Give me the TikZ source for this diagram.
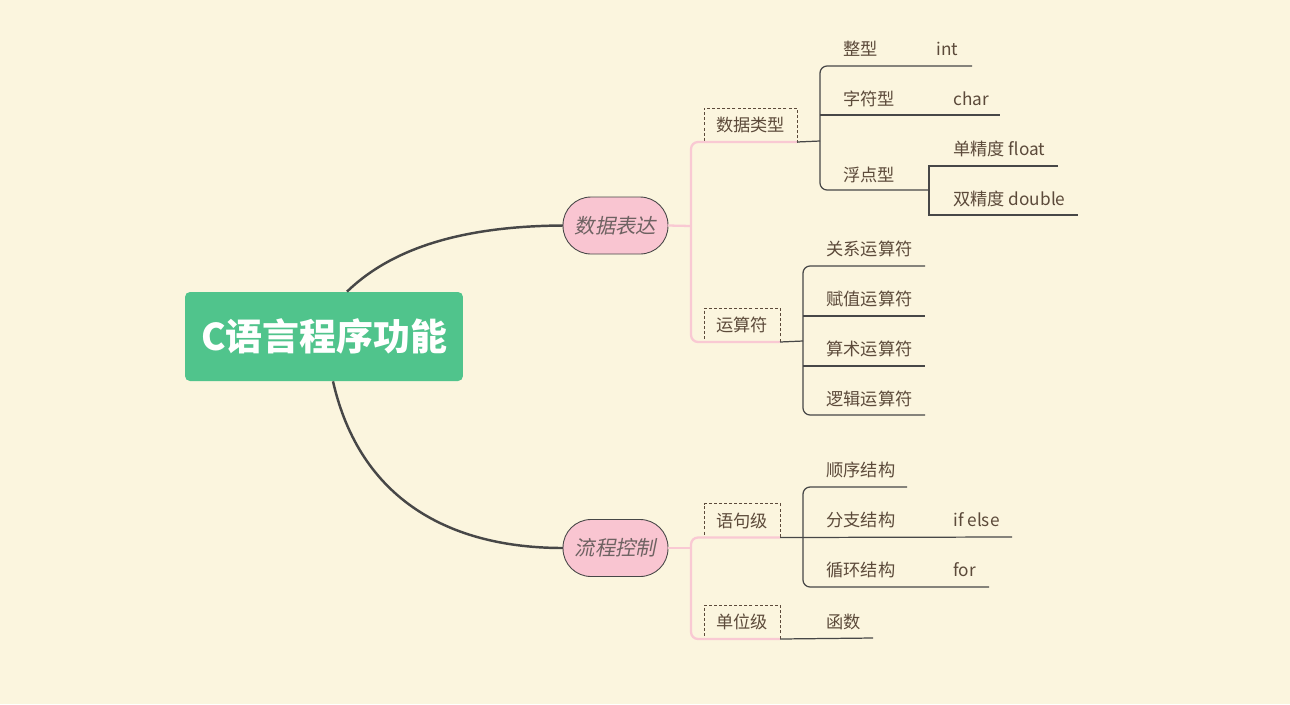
\documentclass[tikz,border=0pt]{standalone}
\usepackage{fontspec}
\setmainfont{Noto Sans CJK SC}
\newfontfamily\slantfont{Noto Sans CJK SC}[FakeSlant=0.2]
\usetikzlibrary{calc}
\definecolor{paper}{HTML}{FBF5DE}
\definecolor{mint}{HTML}{50C48C}
\definecolor{blush}{HTML}{F9C5D1}
\definecolor{rosy}{HTML}{F9C9D3}
\definecolor{slate}{HTML}{474747}
\definecolor{bark}{HTML}{5C4A3A}
\definecolor{smoke}{HTML}{6E6262}

\tikzset{
  rootbox/.style={
    fill=mint,
    text=white,
    rounded corners=2.8pt,
    minimum width=5.56cm,
    minimum height=1.78cm,
    font=\fontsize{21}{24}\selectfont\bfseries
  },
  topic/.style={
    fill=blush,
    draw=slate,
    line width=0.5pt,
    text=smoke,
    rounded corners=0.56cm,
    minimum width=2.1cm,
    minimum height=1.14cm,
    outer sep=0pt,
    font=\fontsize{11.6}{14}\selectfont\slantfont
  },
  subbox/.style={
    draw=bark,
    dashed,
    dash pattern=on 1.7pt off 1.2pt,
    line width=0.45pt,
    text=bark,
    minimum width=1.52cm,
    minimum height=0.68cm,
    outer sep=0pt,
    font=\fontsize{9.8}{12}\selectfont
  },
  leaf/.style={anchor=west, inner sep=0pt, text=bark, font=\fontsize{9.8}{12}\selectfont},
  limb/.style={draw=slate, line width=1.4pt},
  petal/.style={draw=rosy, line width=1.3pt, rounded corners=4pt},
  twig/.style={draw=slate, line width=0.7pt},
  fork/.style={twig, rounded corners=4pt}
}

\begin{document}
\begin{tikzpicture}[x=0.02cm,y=-0.02cm]
  \fill[paper] (0,0) rectangle (1290,704);
  \useasboundingbox (0,0) rectangle (1290,704);

  % main topics
  \node[rootbox] (root) at (324,336.5) {C语言程序功能};
  \node[topic] (expr) at (615.5,225.5) {数据表达};
  \node[topic] (flow) at (615.5,548) {流程控制};

  \draw[limb] ([xshift=0.46cm]root.north) .. controls (395,245) and (470,226) .. (expr.west);
  \draw[limb] ([xshift=0.18cm]root.south) .. controls (360,500) and (450,548) .. (flow.west);

  % second level
  \node[subbox, minimum width=1.86cm] (dtype) at (750.5,125) {数据类型};
  \node[subbox] (oper) at (742,325) {运算符};
  \node[subbox] (stmt) at (742,520.5) {语句级};
  \node[subbox] (unit) at (742,622) {单位级};

  \coordinate (ex-sp) at (691,226);
  \coordinate (fl-sp) at (691,548);
  \draw[petal] (expr.east) -- (ex-sp);
  \draw[petal] (dtype.south east) -- (dtype.south west -| ex-sp) -- (oper.south west -| ex-sp) -- (oper.south east);
  \draw[petal] (flow.east) -- (fl-sp);
  \draw[petal] (stmt.south east) -- (stmt.south west -| fl-sp) -- (unit.south west -| fl-sp) -- (unit.south east);

  % data types
  \node[leaf] (zx) at (843,49) {整型};
  \node[leaf] (zx-v) at (936,49) {int};
  \node[leaf] (zf) at (843,99) {字符型};
  \node[leaf] (zf-v) at (953,99) {char};
  \node[leaf] (fd) at (843,175) {浮点型};
  \node[leaf] (dj) at (953,149) {单精度 float};
  \node[leaf] (sj) at (953,199) {双精度 double};
  \coordinate (dt-sp) at (820,141);
  \coordinate (zx-e) at (972,66);
  \coordinate (zf-e) at (1000,115);
  \coordinate (fd-e) at (929,190);
  \coordinate (dj-e) at (1058,166);
  \coordinate (sj-e) at (1078,215);
  \draw[twig] (dtype.south east) -- (dt-sp);
  \draw[fork] (zx-e) -- (zx-e -| dt-sp) -- (fd-e -| dt-sp) -- (fd-e);
  \draw[twig] (dt-sp |- zf-e) -- (zf-e);
  \draw[twig] (dj-e) -- (dj-e -| fd-e) -- (sj-e -| fd-e) -- (sj-e);

  % operators
  \node[leaf] (gx) at (826,249) {关系运算符};
  \node[leaf] (fz) at (826,299) {赋值运算符};
  \node[leaf] (ss) at (826,349) {算术运算符};
  \node[leaf] (lj) at (826,399) {逻辑运算符};
  \coordinate (op-sp) at (803,341);
  \coordinate (gx-e) at (925,266);
  \coordinate (fz-e) at (925,316);
  \coordinate (ss-e) at (925,366);
  \coordinate (lj-e) at (925,415);
  \draw[twig] (oper.south east) -- (op-sp);
  \draw[fork] (gx-e) -- (gx-e -| op-sp) -- (lj-e -| op-sp) -- (lj-e);
  \draw[twig] (op-sp |- fz-e) -- (fz-e);
  \draw[twig] (op-sp |- ss-e) -- (ss-e);

  % statements
  \node[leaf] (sx) at (826,470) {顺序结构};
  \node[leaf] (fzj) at (826,520) {分支结构};
  \node[leaf] (fzj-v) at (953,520) {if else};
  \node[leaf] (xh) at (826,570) {循环结构};
  \node[leaf] (xh-v) at (953,570) {for};
  \coordinate (st-sp) at (803,537);
  \coordinate (sx-e) at (907,487);
  \coordinate (fzj-e) at (1012,537);
  \coordinate (xh-e) at (989,587);
  \draw[twig] (stmt.south east) -- (fzj-e);
  \draw[fork] (sx-e) -- (sx-e -| st-sp) -- (xh-e -| st-sp) -- (xh-e);

  % units
  \node[leaf] (hs) at (826,622) {函数};
  \coordinate (hs-e) at (873,638);
  \draw[twig] (unit.south east) -- (hs-e);
\end{tikzpicture}
\end{document}
